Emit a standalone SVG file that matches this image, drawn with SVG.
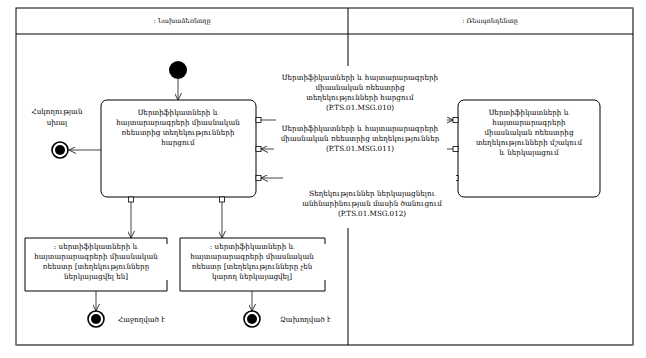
<svg xmlns="http://www.w3.org/2000/svg" width="646" height="358" viewBox="0 0 646 358">
<style>
text{font-family:"DejaVu Serif","DejaVu Sans",serif;font-size:7.2px;fill:#000;text-anchor:middle}
.hdr{font-size:6.5px}
.st{text-anchor:start}
.node{fill:#fff;stroke:#000;stroke-width:1}
.pin{fill:#fff;stroke:#000;stroke-width:0.8}
.edge{fill:none;stroke:#444;stroke-width:1}
.bg{fill:#fff;stroke:none}
</style>
<defs>
<marker id="arr" viewBox="0 0 10 10" refX="10" refY="5" markerWidth="7" markerHeight="7" markerUnits="userSpaceOnUse" orient="auto">
<path d="M0,0 L10,5 L0,10" fill="none" stroke="#222" stroke-width="1.3"/>
</marker>
</defs>
<rect width="646" height="358" fill="#fff"/>
<g id="frame">
<rect x="16" y="8" width="617" height="337" fill="none" stroke="#000" stroke-width="1"/>
<line x1="16" y1="345" x2="633" y2="345" stroke="#777" stroke-width="1.5"/>
<line x1="633" y1="8" x2="633" y2="345" stroke="#777" stroke-width="1.5"/>
<line x1="16" y1="34" x2="633" y2="34" stroke="#000"/>
<line x1="348" y1="8" x2="348" y2="345" stroke="#000"/>
<text class="hdr" x="182" y="23">: Նախաձեռնողը</text>
<text class="hdr" x="490" y="23">: Ռեսպոնդենտը</text>
</g>
<g id="connectors">
<line class="edge" x1="178" y1="79" x2="178" y2="100" marker-end="url(#arr)"/>
<line class="edge" x1="101" y1="150" x2="69" y2="150" marker-end="url(#arr)"/>
<line class="edge" x1="131" y1="202" x2="131" y2="238" marker-end="url(#arr)"/>
<line class="edge" x1="222" y1="202" x2="222" y2="238" marker-end="url(#arr)"/>
<line class="edge" x1="96" y1="291" x2="96" y2="311" marker-end="url(#arr)"/>
<line class="edge" x1="252" y1="291" x2="252" y2="311" marker-end="url(#arr)"/>
<line class="edge" x1="261" y1="120" x2="453" y2="120" marker-end="url(#arr)"/>
<line class="edge" x1="453" y1="149" x2="261" y2="149" marker-end="url(#arr)"/>
<line class="edge" x1="453" y1="178" x2="261" y2="178" marker-end="url(#arr)"/>
</g>
<g id="initial">
<circle cx="178" cy="70" r="9" fill="#000"/>
</g>
<g id="request">
<rect class="node" x="101" y="100" width="155" height="97" rx="6"/>
<rect class="pin" x="256" y="117.5" width="5" height="5"/>
<rect class="pin" x="256" y="146.5" width="5" height="5"/>
<rect class="pin" x="256" y="175.5" width="5" height="5"/>
<rect class="pin" x="128.5" y="197" width="5" height="5"/>
<rect class="pin" x="219.5" y="197" width="5" height="5"/>
<text x="178" y="115">Սերտիֆիկատների և</text>
<text x="178" y="125">հայտարարագրերի միասնական</text>
<text x="178" y="135">ռեեստրից տեղեկությունների</text>
<text x="178" y="145">հարցում</text>
</g>
<g id="process">
<rect class="node" x="458" y="100" width="142" height="97" rx="6"/>
<rect class="pin" x="453" y="117.5" width="5" height="5"/>
<rect class="pin" x="453" y="146.5" width="5" height="5"/>
<rect class="pin" x="453" y="175.5" width="5" height="5"/>
<text x="529" y="115">Սերտիֆիկատների և</text>
<text x="529" y="125">հայտարարագրերի</text>
<text x="529" y="135">միասնական ռեեստրից</text>
<text x="529" y="145">տեղեկությունների մշակում</text>
<text x="529" y="155">և ներկայացում</text>
</g>
<g id="msg010">
<rect class="bg" x="276" y="66" width="171" height="57"/>
<text x="360" y="80">Սերտիֆիկատների և հայտարարագրերի</text>
<text x="360" y="90">միասնական ռեեստրից</text>
<text x="360" y="100">տեղեկությունների հարցում</text>
<text x="360" y="110">(P.TS.01.MSG.010)</text>
</g>
<g id="msg011">
<rect class="bg" x="274" y="123" width="173" height="37"/>
<text x="360" y="131">Սերտիֆիկատների և հայտարարագրերի</text>
<text x="360" y="141">միասնական ռեեստրից տեղեկություններ</text>
<text x="360" y="151">(P.TS.01.MSG.011)</text>
</g>
<g id="msg012">
<rect class="bg" x="283" y="160" width="173" height="68"/>
<text x="372" y="196">Տեղեկություններ ներկայացնելու</text>
<text x="372" y="206">անհնարինության մասին ծանուցում</text>
<text x="372" y="216">(P.TS.01.MSG.012)</text>
</g>
<g id="controlError">
<circle cx="60" cy="150" r="8" fill="#fff" stroke="#000" stroke-width="1.6"/>
<circle cx="60" cy="150" r="5" fill="#000"/>
<text x="57" y="114">Հսկողության</text>
<text x="57" y="125">սխալ</text>
</g>
<g id="registryOk">
<path d="M167,244 V238 H25 V291 H167 V280" fill="none" stroke="#000"/>
<text x="96" y="249">: սերտիֆիկատների և</text>
<text x="96" y="259">հայտարարագրերի միասնական</text>
<text x="96" y="269">ռեեստր [տեղեկությունները</text>
<text x="96" y="279">ներկայացվել են]</text>
</g>
<g id="registryFail">
<path d="M325,244 V238 H180 V291 H325 V280" fill="none" stroke="#000"/>
<text x="252" y="249">: սերտիֆիկատների և</text>
<text x="252" y="259">հայտարարագրերի միասնական</text>
<text x="252" y="269">ռեեստր [տեղեկությունները չեն</text>
<text x="252" y="279">կարող ներկայացվել]</text>
</g>
<g id="success">
<circle cx="96" cy="319" r="8" fill="#fff" stroke="#000" stroke-width="1.6"/>
<circle cx="96" cy="319" r="5" fill="#000"/>
<text class="st" x="118" y="322">Հաջողված է</text>
</g>
<g id="failure">
<circle cx="252" cy="319" r="8" fill="#fff" stroke="#000" stroke-width="1.6"/>
<circle cx="252" cy="319" r="5" fill="#000"/>
<text class="st" x="280" y="322">Ձախողված է</text>
</g>
</svg>
